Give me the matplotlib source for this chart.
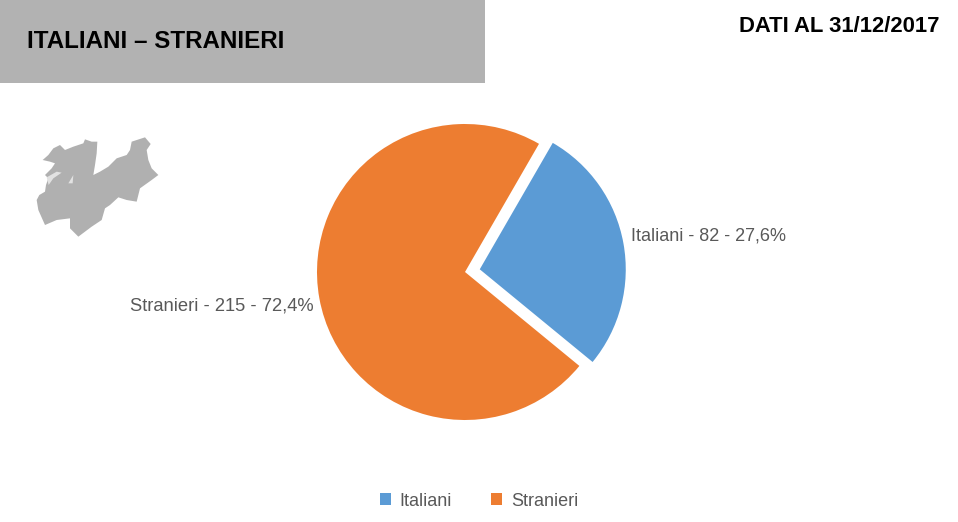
import matplotlib
matplotlib.use("Agg")
import matplotlib.pyplot as plt
from matplotlib.patches import Polygon, Rectangle

plt.rcParams['font.family'] = ['Liberation Sans', 'DejaVu Sans']

# data
categories = ["Italiani", "Stranieri"]
values = [82, 215]
percents = ["27,6", "72,4"]
colors = ["#5b9bd5", "#ed7d31"]
title = "ITALIANI – STRANIERI"
date_label = "DATI AL 31/12/2017"

# rough outline of the little map, in zoomed crop pixels
map_outline = [(50, 240), (58, 225), (75, 215), (78, 195), (85, 175), (75, 165), (95, 145), (105, 130),
               (90, 125), (68, 120), (85, 105), (100, 85), (120, 75), (135, 90), (160, 80), (190, 70),
               (195, 58), (215, 65), (232, 65), (230, 100), (225, 135), (220, 165), (240, 155),
               (265, 140), (290, 115), (320, 105), (330, 90), (335, 65), (375, 52), (392, 72),
               (380, 90), (385, 120), (395, 145), (415, 165), (395, 180), (360, 205), (350, 245),
               (320, 240), (295, 232), (270, 255), (255, 265), (245, 300), (215, 320), (195, 335),
               (175, 350), (150, 325), (150, 295), (110, 300), (75, 315), (55, 270)]
map_holes = [[(80, 172), (110, 155), (125, 158), (100, 175), (86, 195)],
             [(145, 190), (160, 165), (158, 190)]]

W, H = 958, 522
fig = plt.figure(figsize=(W / 100, H / 100), dpi=100)
ax = fig.add_axes([0, 0, 1, 1])


def to_y(y):
    return H - y


def zoom_pt(p):
    return (20 + p[0] / 3, to_y(120 + p[1] / 3))


# header
ax.add_patch(Rectangle((0, to_y(83)), 485, 83, color="#b2b2b2", lw=0))
ax.text(27, to_y(42), title, fontsize=17.4, fontweight='bold', color="black", va='center', ha='left')
ax.text(940, to_y(26), date_label, fontsize=15.8, fontweight='bold', color="black", va='center', ha='right')

# map
ax.add_patch(Polygon([zoom_pt(p) for p in map_outline], closed=True, color="#b0b0b0", lw=0))
for hole in map_holes:
    ax.add_patch(Polygon([zoom_pt(p) for p in hole], closed=True, color="#e2e2e2", lw=0))

# pie, explode is in the same units as radius here
wedges, _ = ax.pie(values, colors=colors, explode=[15, 0], startangle=60, counterclock=False,
                   center=(465, to_y(272)), radius=148, frame=True)
wedges[0].set_radius(146)
ax.set_xlim(0, W)
ax.set_ylim(0, H)
ax.set_aspect('equal')
ax.axis('off')

ax.text(631, to_y(236), f"{categories[0]} - {values[0]} - {percents[0]}%", fontsize=13,
        color="#595959", va='center', ha='left')
ax.text(314, to_y(306), f"{categories[1]} - {values[1]} - {percents[1]}%", fontsize=13.2,
        color="#595959", va='center', ha='right')

# legend
leg = ax.legend(wedges, categories, loc='center', bbox_to_anchor=(479, to_y(501)),
                bbox_transform=ax.transData, ncol=2, frameon=False, fontsize=13, handlelength=0.6,
                handleheight=0.6, handletextpad=0.5, columnspacing=2.15, labelcolor="#595959")

fig.savefig("out.png", dpi=100)
